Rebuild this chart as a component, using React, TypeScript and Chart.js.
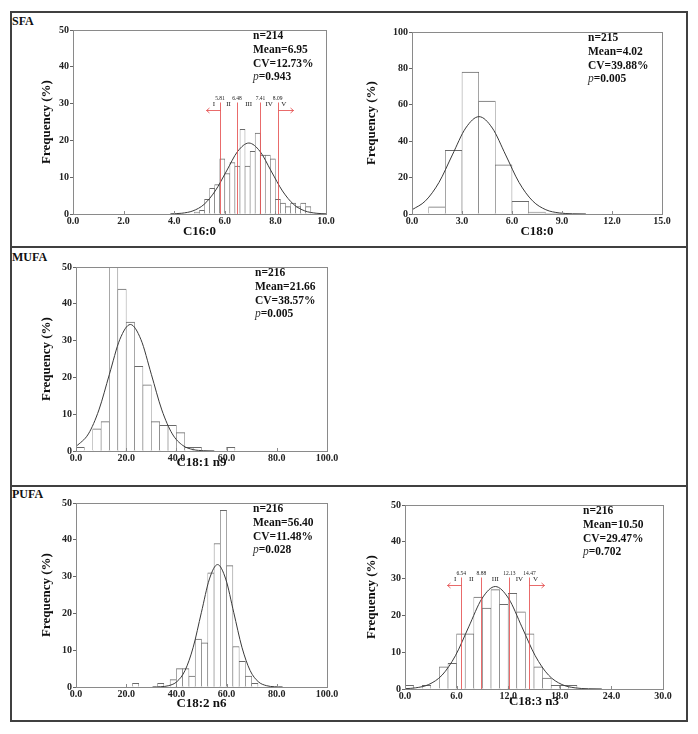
import React, { useEffect, useRef } from "react";
import { Chart, registerables } from "chart.js";

Chart.register(...registerables);

const SERIF = "'Liberation Serif', 'Times New Roman', Times, serif";

// ---------------- DATA ----------------
// C16:0 (SFA)
const c160BinStart = 4.8;
const c160BinWidth = 0.2;
const c160Counts = [0.5, 1, 4, 7, 8, 15, 11, 14, 13, 23, 13, 17, 22, 16, 16, 15, 4, 3, 2, 3, 2, 3, 2];
const c160CurveX = [3.85, 4.3, 4.74, 5.18, 5.62, 6.07, 6.51, 6.95, 7.39, 7.83, 8.28, 8.72, 9.16, 9.61, 10.0];
const c160CurveY = [0.04, 0.21, 0.85, 2.61, 6.26, 11.7, 17.03, 19.29, 17.03, 11.7, 6.26, 2.61, 0.85, 0.21, 0.05];
const c160Cutoffs = [5.81, 6.48, 7.41, 8.09];

// C18:0 (SFA)
const c180BinStart = 1;
const c180BinWidth = 1;
const c180Counts = [4, 35, 78, 62, 27, 7, 1, 0.4];
const c180CurveX = [0, 0.81, 1.62, 2.42, 3.22, 4.02, 4.82, 5.62, 6.42, 7.23, 8.03, 8.83, 9.63, 10.43];
const c180CurveY = [2.31, 7.24, 17.37, 32.45, 47.21, 53.5, 47.21, 32.45, 17.37, 7.24, 2.35, 0.59, 0.12, 0.02];

// C18:1 n9 (MUFA)
const c181BinStart = 0;
const c181BinWidth = 3.333;
const c181Counts = [1, 0, 6, 8, 51, 44, 35, 23, 18, 8, 7, 7, 5, 1, 1, 0, 0, 0, 1];
const c181CurveX = [0, 4.95, 9.13, 13.31, 17.48, 21.66, 25.84, 30.01, 34.19, 38.37, 42.55, 46.72, 50.9, 55.08];
const c181CurveY = [1.19, 4.65, 11.16, 20.85, 30.34, 34.38, 30.34, 20.85, 11.16, 4.65, 1.51, 0.38, 0.08, 0.01];

// C18:2 n6 (PUFA)
const c182BinStart = 22.5;
const c182BinWidth = 2.5;
const c182Counts = [1, 0, 0, 0, 1, 0, 2, 5, 5, 3, 13, 12, 31, 39, 48, 33, 11, 7, 3, 1];
const c182CurveX = [30.5, 33.74, 36.98, 40.21, 43.45, 46.69, 49.93, 53.16, 56.4, 59.64, 62.87, 66.11, 69.35, 72.59, 75.82, 79.06, 82.3];
const c182CurveY = [0.01, 0.07, 0.37, 1.46, 4.5, 10.8, 20.18, 29.36, 33.27, 29.36, 20.18, 10.8, 4.5, 1.46, 0.37, 0.07, 0.01];

// C18:3 n3 (PUFA)
const c183BinStart = 0;
const c183BinWidth = 1;
const c183Counts = [1, 0, 1, 0, 6, 7, 15, 15, 25, 22, 27, 23, 26, 21, 15, 6, 3, 1, 1, 1];
const c183CurveX = [0, 1.22, 2.76, 4.31, 5.86, 7.41, 8.95, 10.5, 12.05, 13.59, 15.14, 16.69, 18.24, 19.78, 21.33, 22.88];
const c183CurveY = [0.09, 0.31, 1.22, 3.77, 9.04, 16.89, 24.58, 27.85, 24.58, 16.89, 9.04, 3.77, 1.22, 0.31, 0.06, 0.01];
const c183Cutoffs = [6.54, 8.88, 12.13, 14.47];

const classLabels = ["I", "II", "III", "IV", "V"];
const panelTitles = ["C16:0", "C18:0", "C18:1 n9", "C18:2 n6", "C18:3 n3"];
const sampleN = [214, 215, 216, 216, 216];
const meanValues = [6.95, 4.02, 21.66, 56.4, 10.5];
const cvValues = [12.73, 39.88, 38.57, 11.48, 29.47];
const pValues = ["0.943", "0.005", "0.005", "0.028", "0.702"];
const xMaxValues = [10, 15, 100, 100, 30];
const xStepValues = [2, 3, 20, 20, 6];
const yMaxValues = [50, 100, 50, 50, 50];
const yStepValues = [10, 20, 10, 10, 10];
const yTitle = "Frequency (%)";
const sectionLabels = ["SFA", "MUFA", "PUFA"];

// ---------------- LAYOUT ----------------
const Y_AXIS_W = 50;
const X_AXIS_H = 28;
const PAD_T = 10;
const PAD_R = 15;

const PLOT_RECTS = [
  { l: 73, r: 326, t: 30, b: 214, titleLeft: 26, titleBelow: 17.3, statsOff: 73 },
  { l: 412, r: 662, t: 32, b: 214, titleLeft: 40, titleBelow: 17.7, statsOff: 74 },
  { l: 76, r: 327, t: 267, b: 451, titleLeft: 29, titleBelow: 11.5, statsOff: 72 },
  { l: 76, r: 327, t: 503, b: 687, titleLeft: 29, titleBelow: 16.7, statsOff: 74 },
  { l: 405, r: 663, t: 505, b: 689, titleLeft: 33, titleBelow: 13, statsOff: 80 },
];

const CUT_LINE_TOP = 30.3;
const CUT_VALUE_Y = 31.5;
const CUT_CLASS_Y = 29.9;
const CUT_ARROW_Y = 28.3;
const RED = "rgba(228,70,70,0.8)";

type PanelDef = {
  title: string;
  binStart: number;
  binWidth: number;
  counts: number[];
  curveX: number[];
  curveY: number[];
  cutoffs?: number[];
};

const PANELS: PanelDef[] = [
  { title: panelTitles[0], binStart: c160BinStart, binWidth: c160BinWidth, counts: c160Counts, curveX: c160CurveX, curveY: c160CurveY, cutoffs: c160Cutoffs },
  { title: panelTitles[1], binStart: c180BinStart, binWidth: c180BinWidth, counts: c180Counts, curveX: c180CurveX, curveY: c180CurveY },
  { title: panelTitles[2], binStart: c181BinStart, binWidth: c181BinWidth, counts: c181Counts, curveX: c181CurveX, curveY: c181CurveY },
  { title: panelTitles[3], binStart: c182BinStart, binWidth: c182BinWidth, counts: c182Counts, curveX: c182CurveX, curveY: c182CurveY },
  { title: panelTitles[4], binStart: c183BinStart, binWidth: c183BinWidth, counts: c183Counts, curveX: c183CurveX, curveY: c183CurveY, cutoffs: c183Cutoffs },
];

function makeOverlay(idx: number, def: PanelDef) {
  return {
    id: "overlay" + idx,
    afterDatasetsDraw(chart: any) {
      const { ctx, chartArea: a, scales } = chart;
      const xs = scales.x;
      const ys = scales.y;
      const rect = PLOT_RECTS[idx];
      ctx.save();

      // plot frame
      ctx.strokeStyle = "#8a8a8a";
      ctx.lineWidth = 1;
      ctx.strokeRect(Math.round(a.left) + 0.5, Math.round(a.top) + 0.5, Math.round(a.right - a.left), Math.round(a.bottom - a.top));

      // inward x tick marks
      ctx.beginPath();
      xs.ticks.forEach((t: any) => {
        const px = Math.round(xs.getPixelForValue(t.value)) + 0.5;
        ctx.moveTo(px, a.bottom);
        ctx.lineTo(px, a.bottom - 3);
      });
      ctx.stroke();

      // cut-off lines
      if (def.cutoffs) {
        const cuts = def.cutoffs;
        const pxs = cuts.map((c) => xs.getPixelForValue(c));
        const yBase = ys.getPixelForValue(0);
        const yTop = ys.getPixelForValue(CUT_LINE_TOP);
        ctx.strokeStyle = RED;
        ctx.lineWidth = 1;
        ctx.beginPath();
        pxs.forEach((px) => {
          const p = Math.round(px) + 0.5;
          ctx.moveTo(p, yBase);
          ctx.lineTo(p, yTop);
        });
        ctx.stroke();

        // arrows
        const yA = Math.round(ys.getPixelForValue(CUT_ARROW_Y)) + 0.5;
        const l0 = Math.round(pxs[0]) + 0.5;
        const r0 = Math.round(pxs[pxs.length - 1]) + 0.5;
        ctx.beginPath();
        ctx.moveTo(l0, yA);
        ctx.lineTo(l0 - 14, yA);
        ctx.moveTo(l0 - 11, yA - 2.5);
        ctx.lineTo(l0 - 14, yA);
        ctx.lineTo(l0 - 11, yA + 2.5);
        ctx.moveTo(r0, yA);
        ctx.lineTo(r0 + 15, yA);
        ctx.moveTo(r0 + 12, yA - 2.5);
        ctx.lineTo(r0 + 15, yA);
        ctx.lineTo(r0 + 12, yA + 2.5);
        ctx.stroke();

        // values
        ctx.fillStyle = "#222";
        ctx.textAlign = "center";
        ctx.textBaseline = "middle";
        ctx.font = `5.5px ${SERIF}`;
        const yV = ys.getPixelForValue(CUT_VALUE_Y);
        cuts.forEach((c, j) => ctx.fillText(c.toFixed(2), pxs[j], yV));

        // class labels
        ctx.font = `7px ${SERIF}`;
        const yC = ys.getPixelForValue(CUT_CLASS_Y);
        const classX = [
          pxs[0] - 6,
          (pxs[0] + pxs[1]) / 2,
          (pxs[1] + pxs[2]) / 2,
          (pxs[2] + pxs[3]) / 2,
          pxs[3] + 6,
        ];
        classLabels.forEach((lab, j) => ctx.fillText(lab, classX[j], yC));
      }

      // stats text
      const x0 = a.right - rect.statsOff;
      const lines = [
        `n=${sampleN[idx]}`,
        `Mean=${meanValues[idx].toFixed(2)}`,
        `CV=${cvValues[idx].toFixed(2)}%`,
      ];
      ctx.fillStyle = "#111";
      ctx.textAlign = "left";
      ctx.textBaseline = "middle";
      ctx.font = `bold 11.5px ${SERIF}`;
      lines.forEach((s, j) => ctx.fillText(s, x0, a.top + 6 + j * 13.8));
      const y3 = a.top + 6 + 3 * 13.8;
      ctx.font = `italic 11.5px ${SERIF}`;
      ctx.fillStyle = "#333";
      ctx.fillText("p", x0, y3);
      const w = ctx.measureText("p").width;
      ctx.font = `bold 11.5px ${SERIF}`;
      ctx.fillStyle = "#111";
      ctx.fillText(`=${pValues[idx]}`, x0 + w, y3);

      ctx.restore();
    },
  };
}

function HistPanel({ idx }: { idx: number }) {
  const ref = useRef<HTMLCanvasElement | null>(null);
  const rect = PLOT_RECTS[idx];
  const def = PANELS[idx];
  const width = Y_AXIS_W + (rect.r - rect.l) + PAD_R;
  const height = PAD_T + (rect.b - rect.t) + X_AXIS_H;

  useEffect(() => {
    if (!ref.current) return;
    const barData = def.counts.map((c, i) => ({ x: def.binStart + (i + 0.5) * def.binWidth, y: c }));
    const curveData = def.curveX.map((x, i) => ({ x, y: def.curveY[i] }));
    const xTickFont = { family: SERIF, size: 10, weight: "bold" as const, lineHeight: 1 };
    const yTickFont = { family: SERIF, size: 10, weight: "bold" as const };
    const titleFont = { family: SERIF, size: 13, weight: "bold" as const };

    const chart = new Chart(ref.current, {
      type: "bar",
      data: {
        datasets: [
          {
            type: "line",
            data: curveData,
            borderColor: "#3a3a3a",
            borderWidth: 1,
            pointRadius: 0,
            cubicInterpolationMode: "monotone",
            fill: false,
            order: 0,
          } as any,
          {
            type: "bar",
            data: barData,
            backgroundColor: "#ffffff",
            borderColor: "#6a6a6a",
            borderWidth: { top: 1, left: 0.6, right: 0.6, bottom: 0 },
            borderSkipped: false,
            barPercentage: 1,
            categoryPercentage: 1,
            grouped: false,
            order: 1,
          } as any,
        ],
      },
      options: {
        responsive: false,
        animation: false,
        events: [],
        layout: { padding: { top: PAD_T, right: PAD_R, left: 0, bottom: 0 } },
        plugins: { legend: { display: false }, tooltip: { enabled: false } },
        scales: {
          x: {
            type: "linear",
            min: 0,
            max: xMaxValues[idx],
            offset: false,
            ticks: {
              stepSize: xStepValues[idx],
              callback: (v: any) => Number(v).toFixed(1),
              font: xTickFont,
              color: "#222",
              padding: 2,
              maxRotation: 0,
              autoSkip: false,
            },
            grid: { display: false, drawTicks: false, offset: false },
            border: { display: false },
            title: {
              display: true,
              text: def.title,
              font: titleFont,
              color: "#111",
              padding: { top: 0, bottom: X_AXIS_H - rect.titleBelow - 7.8 },
            },
            afterFit: (s: any) => {
              s.height = X_AXIS_H;
            },
          },
          y: {
            min: 0,
            max: yMaxValues[idx],
            ticks: { stepSize: yStepValues[idx], font: yTickFont, color: "#222", padding: 1 },
            grid: { drawOnChartArea: false, drawTicks: true, tickLength: 3, color: "#666" },
            border: { display: false },
            title: {
              display: true,
              text: yTitle,
              font: titleFont,
              color: "#111",
              padding: { top: Y_AXIS_W - rect.titleLeft - 7.8, bottom: 0 },
            },
            afterFit: (s: any) => {
              s.width = Y_AXIS_W;
            },
          },
        },
      } as any,
      plugins: [makeOverlay(idx, def)],
    });
    return () => chart.destroy();
  }, []);

  return (
    <canvas
      ref={ref}
      width={width}
      height={height}
      style={{
        position: "absolute",
        left: rect.l - Y_AXIS_W,
        top: rect.t - PAD_T,
        width,
        height,
      }}
    />
  );
}

export default function App() {
  const labelStyle: React.CSSProperties = {
    position: "absolute",
    font: `bold 12px ${SERIF}`,
    lineHeight: "12px",
    color: "#111",
    left: 12,
  };
  return (
    <div
      style={{
        position: "absolute",
        left: 0,
        top: 0,
        width: 698,
        height: 734,
        background: "#fff",
        overflow: "hidden",
      }}
    >
      <div
        style={{
          position: "absolute",
          left: 10,
          top: 11,
          width: 678,
          height: 711,
          boxSizing: "border-box",
          border: "2px solid #404040",
        }}
      />
      <div style={{ position: "absolute", left: 10, top: 246, width: 678, height: 2, background: "#404040" }} />
      <div style={{ position: "absolute", left: 10, top: 485, width: 678, height: 2, background: "#404040" }} />
      <div style={{ ...labelStyle, top: 15 }}>{sectionLabels[0]}</div>
      <div style={{ ...labelStyle, top: 251 }}>{sectionLabels[1]}</div>
      <div style={{ ...labelStyle, top: 488 }}>{sectionLabels[2]}</div>
      {PANELS.map((_, i) => (
        <HistPanel key={i} idx={i} />
      ))}
    </div>
  );
}
